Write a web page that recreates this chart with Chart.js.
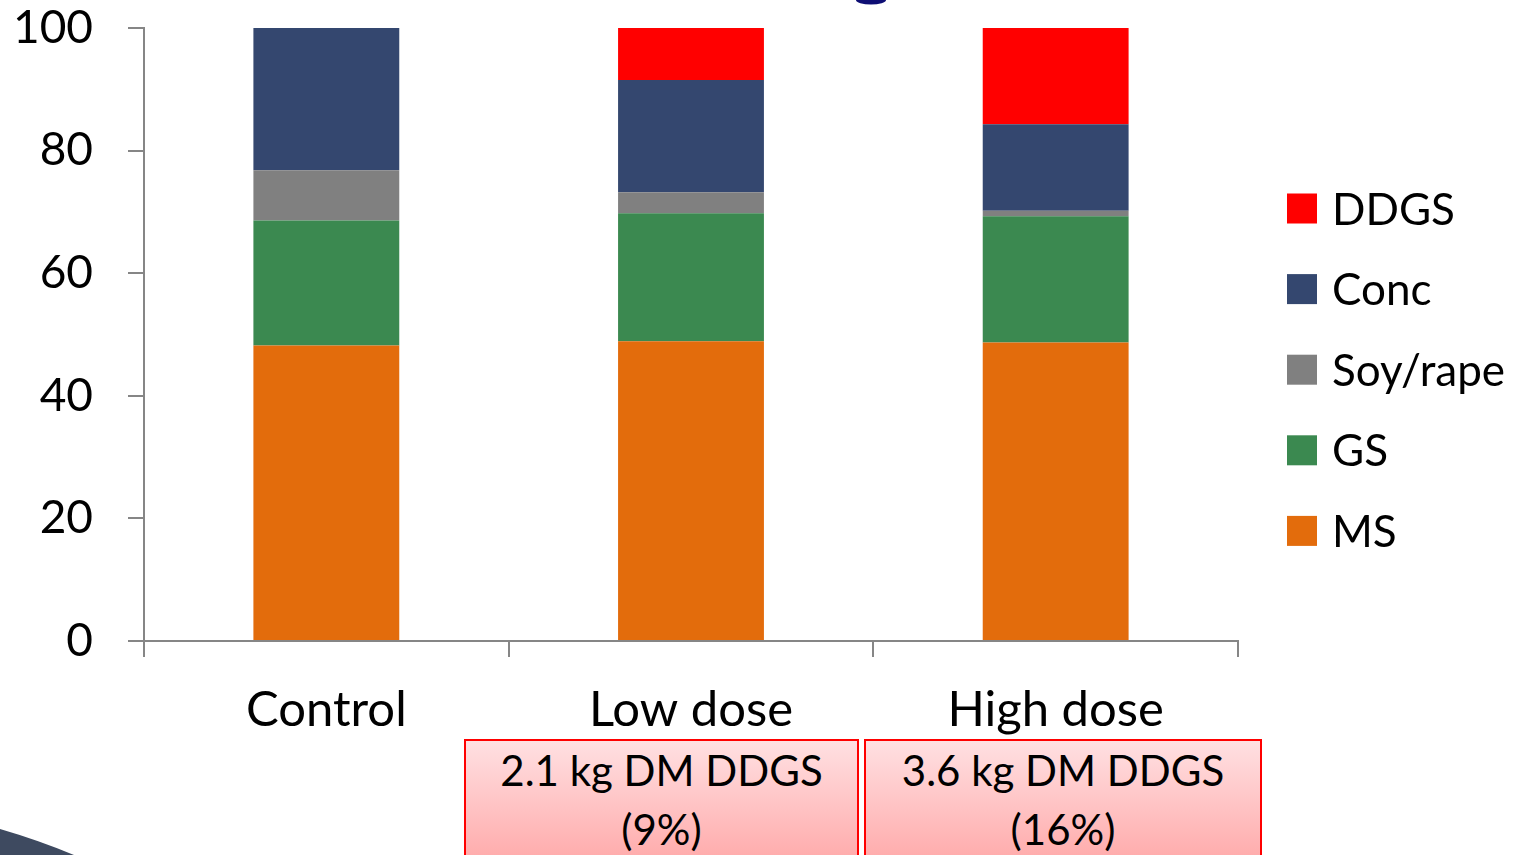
<!DOCTYPE html>
<html>
<head>
<meta charset="utf-8">
<script src="https://cdn.jsdelivr.net/npm/chart.js@4.4.1/dist/chart.umd.min.js"></script>
<style>
  html, body { margin: 0; padding: 0; background: #ffffff; overflow: hidden; }
  #wrap { position: relative; width: 1534px; height: 855px; overflow: hidden; }
  #chart { position: absolute; left: 0; top: 0; }
  .dose {
    position: absolute; top: 739px; height: 130px; box-sizing: border-box;
    border: 2px solid #ff0000;
    background: linear-gradient(to bottom, #ffe0e2 0%, #ffa8a8 100%);
    font-family: Lato, sans-serif; font-size: 42px; color: #000;
    text-align: center; line-height: 59px; padding-top: 0px;
  }
  #deco { position: absolute; left: 0; top: 0; }
</style>
</head>
<body>
<div id="wrap">
  <canvas id="chart" width="1534" height="855"></canvas>
  <div class="dose" style="left:464px; width:395px;">2.1 kg DM DDGS<br>(9%)</div>
  <div class="dose" style="left:864px; width:398px;">3.6 kg DM DDGS<br>(16%)</div>
  <svg id="deco" width="1534" height="855">
    <path d="M0,829 Q38,840 74,855 L0,855 Z" fill="#3e4a60"/>
    <ellipse cx="871" cy="0" rx="15" ry="4.5" fill="#0e0e74"/>
  </svg>
</div>
<script>
// Diet composition (% of dry matter) per treatment
const categories = ['Control', 'Low dose', 'High dose'];
const msValues   = [48.2, 48.9, 48.7];
const gsValues   = [20.4, 20.9, 20.6];
const soyValues  = [8.2, 3.4, 0.9];
const concValues = [23.2, 18.3, 14.1];
const ddgsValues = [0, 8.5, 15.7];
const yTicks = [0, 20, 40, 60, 80, 100];

const seriesNames  = ['MS', 'GS', 'Soy/rape', 'Conc', 'DDGS'];
const seriesColors = ['#e36c0c', '#3b8950', '#808080', '#34476f', '#ff0000'];
const seriesValues = [msValues, gsValues, soyValues, concValues, ddgsValues];

const FONT = 'Lato, "Open Sans", sans-serif';
const AXIS = '#868686';

// Legend drawn on the right, top entry = last stacked series
const sideLegend = {
  id: 'sideLegend',
  afterDraw(chart) {
    const ctx = chart.ctx;
    const ds = chart.data.datasets.slice().reverse();
    ctx.save();
    ctx.font = '44px ' + FONT;
    ctx.textBaseline = 'middle';
    ctx.textAlign = 'left';
    ds.forEach((d, i) => {
      const cy = 208.5 + i * 80.6;
      ctx.fillStyle = d.backgroundColor;
      ctx.fillRect(1287, cy - 15, 30, 30);
      ctx.fillStyle = '#000';
      ctx.fillText(d.label, 1332, cy + 2);
    });
    ctx.restore();
  }
};

new Chart(document.getElementById('chart'), {
  type: 'bar',
  data: {
    labels: categories,
    datasets: seriesNames.map((name, i) => ({
      label: name,
      data: seriesValues[i],
      backgroundColor: seriesColors[i],
      borderWidth: 0,
      categoryPercentage: 1.0,
      barPercentage: 0.4
    }))
  },
  options: {
    responsive: false,
    animation: false,
    devicePixelRatio: 1,
    layout: { padding: { left: 0, right: 296, top: 28, bottom: 0 } },
    plugins: { legend: { display: false }, tooltip: { enabled: false } },
    scales: {
      x: {
        stacked: true,
        grid: { offset: true, drawOnChartArea: false, drawTicks: true, tickLength: 16, color: AXIS, lineWidth: 2 },
        border: { display: true, color: AXIS, width: 2 },
        ticks: { color: '#000', font: { family: FONT, size: 49 }, padding: 24, maxRotation: 0 },
        afterFit(scale) { scale.height = 214; scale.paddingLeft = 0; scale.paddingRight = 0; }
      },
      y: {
        stacked: true,
        min: 0, max: 100,
        afterBuildTicks(scale) { scale.ticks = yTicks.map(v => ({ value: v })); },
        grid: { drawOnChartArea: false, drawTicks: true, tickLength: 16, color: AXIS, lineWidth: 2 },
        border: { display: true, color: AXIS, width: 2 },
        ticks: { color: '#000', font: { family: FONT, size: 46 }, padding: 35 },
        afterFit(scale) { scale.width = 144; scale.paddingTop = 0; scale.paddingBottom = 0; }
      }
    }
  },
  plugins: [sideLegend]
});
</script>
</body>
</html>
